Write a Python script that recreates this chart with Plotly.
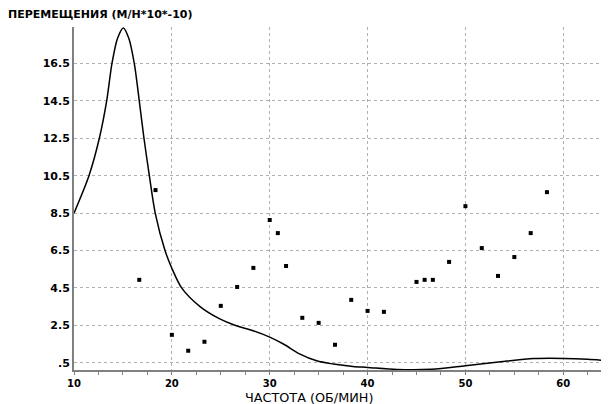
import plotly.graph_objects as go

# Measured scatter points
pts_x = [16.67, 18.33, 20.0, 21.67, 23.33, 25.0, 26.67, 28.33, 30.0, 30.83, 31.67,
         33.33, 35.0, 36.67, 38.33, 40.0, 41.67, 45.0, 45.83, 46.67, 48.33, 50.0,
         51.67, 53.33, 55.0, 56.67, 58.33]
pts_y = [4.93, 9.73, 1.99, 1.14, 1.62, 3.54, 4.55, 5.57, 8.13, 7.43, 5.67,
         2.90, 2.63, 1.46, 3.86, 3.27, 3.22, 4.82, 4.93, 4.93, 5.89, 8.87,
         6.63, 5.14, 6.15, 7.43, 9.62]

# Theoretical curve
curve_x = [10.0, 11.53, 12.59, 13.34, 13.88, 14.45, 15.04, 15.6,
           16.16, 16.67, 17.15, 17.7, 18.3, 19.3, 20.0, 21.0, 22.88,
           24.9, 26.45, 28.3, 30.0, 31.4, 33.1, 34.8, 36.5, 38.5, 40.0, 43.0,
           46.55, 50.0, 53.6, 57.0, 60.0, 62.5, 64.6]
curve_y = [8.5, 10.5, 12.5, 14.5, 16.5, 17.85, 18.4, 17.85,
           16.5, 14.5, 12.5, 10.5, 8.5, 6.5, 5.55, 4.5, 3.5,
           2.84, 2.5, 2.21, 1.87, 1.5, 0.96, 0.6, 0.43, 0.3, 0.25, 0.14,
           0.15, 0.34, 0.55, 0.72, 0.73, 0.68, 0.6]

y_ticks = [0.5, 2.5, 4.5, 6.5, 8.5, 10.5, 12.5, 14.5, 16.5]
y_tick_labels = [".5", "2.5", "4.5", "6.5", "8.5", "10.5", "12.5", "14.5", "16.5"]
x_ticks = [10, 20, 30, 40, 50, 60]

y_title = "ПЕРЕМЕЩЕНИЯ (М/Н*10*-10)"
x_title = "ЧАСТОТА (ОБ/МИН)"

fig = go.Figure()
fig.add_trace(go.Scatter(x=curve_x, y=curve_y, mode="lines",
                         line=dict(color="black", width=1.5, shape="spline", smoothing=0.8),
                         hoverinfo="skip"))
fig.add_trace(go.Scatter(x=pts_x, y=pts_y, mode="markers",
                         marker=dict(symbol="square", size=4, color="black")))

# page body has an 8px offset; figure is sized so the plot lands where the reference has it
OFF = 8
W, H = 609 - OFF, 404 - OFF
L, R, T, B = 74 - OFF, 1, 27 - OFF, 34
fig.update_layout(
    width=W, height=H,
    margin=dict(l=L, r=R, t=T, b=B),
    paper_bgcolor="white", plot_bgcolor="white",
    showlegend=False,
    font=dict(family="DejaVu Sans", size=11, color="black"),
    xaxis=dict(range=[10, 64.57], tickvals=x_ticks, ticktext=[str(v) for v in x_ticks],
               showgrid=True, gridcolor="#b0b0b0", griddash="dot", gridwidth=1,
               showline=True, linecolor="#808080", linewidth=2,
               ticks="outside", ticklen=3, tickcolor="#808080",
               minor=dict(dtick=2.5, tick0=10, ticks="outside", ticklen=3, tickcolor="#808080", showgrid=False),
               tickfont=dict(family="DejaVu Sans", size=10, weight="bold"),
               zeroline=False, fixedrange=True),
    yaxis=dict(range=[0.11, 18.45], tickvals=y_ticks, ticktext=y_tick_labels,
               showgrid=True, gridcolor="#b0b0b0", griddash="dot", gridwidth=1,
               showline=True, linecolor="#808080", linewidth=2,
               ticks="", tickfont=dict(family="DejaVu Sans", size=11, weight="bold"),
               zeroline=False, fixedrange=True),
)
pw = W - L - R
ph = H - T - B
fig.add_annotation(text=y_title, xref="paper", yref="paper",
                   x=(6 - 74) / pw, y=1 + (27 - 14) / ph, xanchor="left", yanchor="middle",
                   showarrow=False, font=dict(family="DejaVu Sans", size=11, weight="bold"))
fig.add_annotation(text=x_title, xref="paper", yref="paper",
                   x=(309 - 74) / pw, y=-(397.5 - 370) / ph, xanchor="center", yanchor="middle",
                   showarrow=False, font=dict(family="DejaVu Sans", size=12.8))

fig.write_html("out.html")
